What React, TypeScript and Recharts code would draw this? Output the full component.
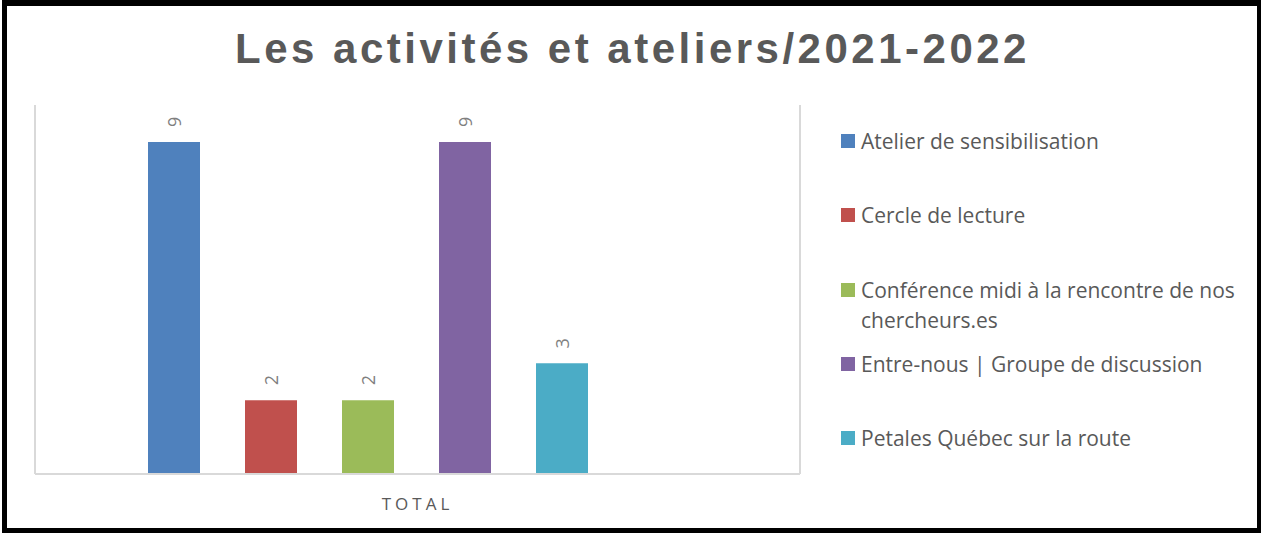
import React from 'react';
import { BarChart, Bar, XAxis, YAxis, LabelList } from 'recharts';

const categories = ['TOTAL'];
const seriesNames = [
  'Atelier de sensibilisation',
  'Cercle de lecture',
  'Conférence midi à la rencontre de nos chercheurs.es',
  'Entre-nous | Groupe de discussion',
  'Petales Québec sur la route',
];
const seriesValues = [9, 2, 2, 9, 3];
const seriesColors = ['#4f81bd', '#c0504d', '#9bbb59', '#8064a2', '#4bacc6'];

const data = categories.map((name) => {
  const row: Record<string, string | number> = { name };
  seriesNames.forEach((s, i) => {
    row[`s${i}`] = seriesValues[i];
  });
  return row;
});

const GRAY_LINE = '#d9d9d9';
const TEXT = '#595959';

function ValueLabel(props: any) {
  const { x, y, width, value } = props;
  const cx = x + width / 2;
  const cy = y - 20;
  return (
    <text
      x={cx}
      y={cy}
      transform={`rotate(-90 ${cx} ${cy})`}
      textAnchor="middle"
      dominantBaseline="central"
      fill="#7f7f7f"
      fontSize={18}
      fontFamily="'Open Sans', sans-serif"
    >
      {value}
    </text>
  );
}

function CategoryLabel(props: any) {
  const { viewBox } = props;
  return (
    <text
      x={viewBox.x + viewBox.width / 2}
      y={viewBox.y + 29}
      textAnchor="middle"
      dominantBaseline="central"
      fill={TEXT}
      fontSize={17}
      letterSpacing={4}
      fontFamily="'Open Sans', sans-serif"
    >
      {categories[0]}
    </text>
  );
}

function LegendList() {
  return (
    <div
      style={{
        position: 'absolute',
        left: 841,
        top: 126,
        width: 410,
        fontFamily: "'Open Sans', sans-serif",
        fontSize: 21,
        color: TEXT,
      }}
    >
      {seriesNames.map((name, i) => (
        <div key={name} style={{ display: 'flex', alignItems: 'flex-start', height: 74.25 }}>
          <span
            style={{
              width: 14,
              height: 14,
              background: seriesColors[i],
              marginTop: 8,
              marginRight: 6,
              flex: 'none',
            }}
          />
          <span style={{ lineHeight: '30px', width: 385 }}>{name}</span>
        </div>
      ))}
    </div>
  );
}

export default function App() {
  return (
    <div style={{ position: 'absolute', left: 0, top: 0, width: 1261, height: 533, background: '#fff' }}>
      <div
        style={{
          position: 'absolute',
          left: 2,
          top: 0,
          width: 1259,
          height: 533,
          boxSizing: 'border-box',
          borderStyle: 'solid',
          borderColor: '#000',
          borderWidth: '6px 4px 5px 5px',
        }}
      />
      <div
        style={{
          position: 'absolute',
          left: 2,
          top: 24,
          width: 1261,
          textAlign: 'center',
          fontFamily: "'Liberation Sans', Arial, sans-serif",
          fontWeight: 'bold',
          fontSize: 42,
          letterSpacing: 3.5,
          color: TEXT,
          lineHeight: '50px',
        }}
      >
        Les activités et ateliers/2021-2022
      </div>
      <div style={{ position: 'absolute', left: 0, top: 0 }}>
        <BarChart
          width={1261}
          height={533}
          data={data}
          margin={{ top: 105, left: 34, right: 460, bottom: 19 }}
          barSize={52}
          barGap={45}
        >
          <XAxis
            dataKey="name"
            tick={false}
            tickLine={false}
            axisLine={{ stroke: GRAY_LINE, strokeWidth: 2 }}
            height={40}
            padding={{ left: 0, right: 100 }}
            label={<CategoryLabel />}
          />
          <YAxis
            yAxisId="left"
            domain={[0, 10]}
            width={1}
            tick={false}
            tickLine={false}
            axisLine={{ stroke: GRAY_LINE, strokeWidth: 2 }}
          />
          <YAxis
            yAxisId="right"
            orientation="right"
            domain={[0, 10]}
            width={1}
            tick={false}
            tickLine={false}
            axisLine={{ stroke: GRAY_LINE, strokeWidth: 2 }}
          />
          {seriesNames.map((s, i) => (
            <Bar
              key={s}
              dataKey={`s${i}`}
              name={s}
              yAxisId="left"
              fill={seriesColors[i]}
              isAnimationActive={false}
            >
              <LabelList dataKey={`s${i}`} content={<ValueLabel />} />
            </Bar>
          ))}
        </BarChart>
      </div>
      <LegendList />
    </div>
  );
}
